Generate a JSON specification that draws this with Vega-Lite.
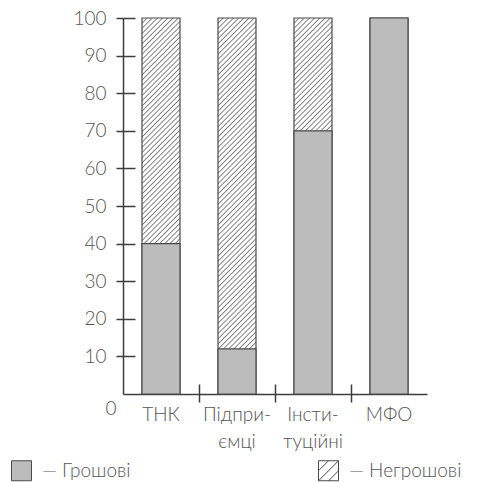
{
  "$schema": "https://vega.github.io/schema/vega-lite/v6.json",
  "autosize": "none",
  "width": 304,
  "height": 376,
  "padding": {"left": 123, "top": 18, "right": 51, "bottom": 88},
  "background": "white",
  "config": {
    "font": "Lato",
    "view": {"stroke": null},
    "axis": {
      "labelFont": "Lato",
      "labelFontSize": 19,
      "labelFontWeight": 300,
      "labelColor": "#555555",
      "domainColor": "#3c3c3c",
      "domainWidth": 1.5,
      "tickColor": "#3c3c3c",
      "tickWidth": 1.5,
      "gridColor": "#3c3c3c",
      "gridWidth": 1.5
    }
  },
  "data": {
    "values": [
      {"group": "ТНК", "kind": "Грошові", "share": 40},
      {"group": "ТНК", "kind": "Негрошові", "share": 60},
      {"group": "Підприємці", "kind": "Грошові", "share": 12},
      {"group": "Підприємці", "kind": "Негрошові", "share": 88},
      {"group": "Інституційні", "kind": "Грошові", "share": 70},
      {"group": "Інституційні", "kind": "Негрошові", "share": 30},
      {"group": "МФО", "kind": "Грошові", "share": 100},
      {"group": "МФО", "kind": "Негрошові", "share": 0}
    ]
  },
  "resolve": {"axis": {"x": "independent", "y": "independent"}},
  "layer": [
    {
      "mark": {
        "type": "bar",
        "size": 38,
        "stroke": "#4a4a4a",
        "strokeWidth": 1.2,
        "fill": {
          "gradient": "linear",
          "x1": 0, "y1": 0, "x2": 0.1102, "y2": 1.0899,
          "stops": [
            {"offset":0,"color":"#777"},{"offset":0.003,"color":"#fff"},{"offset":0.0095,"color":"#fff"},
            {"offset":0.0125,"color":"#777"},{"offset":0.0155,"color":"#fff"},{"offset":0.022,"color":"#fff"},
            {"offset":0.025,"color":"#777"},{"offset":0.028,"color":"#fff"},{"offset":0.0345,"color":"#fff"},
            {"offset":0.0375,"color":"#777"},{"offset":0.0405,"color":"#fff"},{"offset":0.047,"color":"#fff"},
            {"offset":0.05,"color":"#777"},{"offset":0.053,"color":"#fff"},{"offset":0.0595,"color":"#fff"},
            {"offset":0.0625,"color":"#777"},{"offset":0.0655,"color":"#fff"},{"offset":0.072,"color":"#fff"},
            {"offset":0.075,"color":"#777"},{"offset":0.078,"color":"#fff"},{"offset":0.0845,"color":"#fff"},
            {"offset":0.0875,"color":"#777"},{"offset":0.0905,"color":"#fff"},{"offset":0.097,"color":"#fff"},
            {"offset":0.1,"color":"#777"},{"offset":0.103,"color":"#fff"},{"offset":0.1095,"color":"#fff"},
            {"offset":0.1125,"color":"#777"},{"offset":0.1155,"color":"#fff"},{"offset":0.122,"color":"#fff"},
            {"offset":0.125,"color":"#777"},{"offset":0.128,"color":"#fff"},{"offset":0.1345,"color":"#fff"},
            {"offset":0.1375,"color":"#777"},{"offset":0.1405,"color":"#fff"},{"offset":0.147,"color":"#fff"},
            {"offset":0.15,"color":"#777"},{"offset":0.153,"color":"#fff"},{"offset":0.1595,"color":"#fff"},
            {"offset":0.1625,"color":"#777"},{"offset":0.1655,"color":"#fff"},{"offset":0.172,"color":"#fff"},
            {"offset":0.175,"color":"#777"},{"offset":0.178,"color":"#fff"},{"offset":0.1845,"color":"#fff"},
            {"offset":0.1875,"color":"#777"},{"offset":0.1905,"color":"#fff"},{"offset":0.197,"color":"#fff"},
            {"offset":0.2,"color":"#777"},{"offset":0.203,"color":"#fff"},{"offset":0.2095,"color":"#fff"},
            {"offset":0.2125,"color":"#777"},{"offset":0.2155,"color":"#fff"},{"offset":0.222,"color":"#fff"},
            {"offset":0.225,"color":"#777"},{"offset":0.228,"color":"#fff"},{"offset":0.2345,"color":"#fff"},
            {"offset":0.2375,"color":"#777"},{"offset":0.2405,"color":"#fff"},{"offset":0.247,"color":"#fff"},
            {"offset":0.25,"color":"#777"},{"offset":0.253,"color":"#fff"},{"offset":0.2595,"color":"#fff"},
            {"offset":0.2625,"color":"#777"},{"offset":0.2655,"color":"#fff"},{"offset":0.272,"color":"#fff"},
            {"offset":0.275,"color":"#777"},{"offset":0.278,"color":"#fff"},{"offset":0.2845,"color":"#fff"},
            {"offset":0.2875,"color":"#777"},{"offset":0.2905,"color":"#fff"},{"offset":0.297,"color":"#fff"},
            {"offset":0.3,"color":"#777"},{"offset":0.303,"color":"#fff"},{"offset":0.3095,"color":"#fff"},
            {"offset":0.3125,"color":"#777"},{"offset":0.3155,"color":"#fff"},{"offset":0.322,"color":"#fff"},
            {"offset":0.325,"color":"#777"},{"offset":0.328,"color":"#fff"},{"offset":0.3345,"color":"#fff"},
            {"offset":0.3375,"color":"#777"},{"offset":0.3405,"color":"#fff"},{"offset":0.347,"color":"#fff"},
            {"offset":0.35,"color":"#777"},{"offset":0.353,"color":"#fff"},{"offset":0.3595,"color":"#fff"},
            {"offset":0.3625,"color":"#777"},{"offset":0.3655,"color":"#fff"},{"offset":0.372,"color":"#fff"},
            {"offset":0.375,"color":"#777"},{"offset":0.378,"color":"#fff"},{"offset":0.3845,"color":"#fff"},
            {"offset":0.3875,"color":"#777"},{"offset":0.3905,"color":"#fff"},{"offset":0.397,"color":"#fff"},
            {"offset":0.4,"color":"#777"},{"offset":0.403,"color":"#fff"},{"offset":0.4095,"color":"#fff"},
            {"offset":0.4125,"color":"#777"},{"offset":0.4155,"color":"#fff"},{"offset":0.422,"color":"#fff"},
            {"offset":0.425,"color":"#777"},{"offset":0.428,"color":"#fff"},{"offset":0.4345,"color":"#fff"},
            {"offset":0.4375,"color":"#777"},{"offset":0.4405,"color":"#fff"},{"offset":0.447,"color":"#fff"},
            {"offset":0.45,"color":"#777"},{"offset":0.453,"color":"#fff"},{"offset":0.4595,"color":"#fff"},
            {"offset":0.4625,"color":"#777"},{"offset":0.4655,"color":"#fff"},{"offset":0.472,"color":"#fff"},
            {"offset":0.475,"color":"#777"},{"offset":0.478,"color":"#fff"},{"offset":0.4845,"color":"#fff"},
            {"offset":0.4875,"color":"#777"},{"offset":0.4905,"color":"#fff"},{"offset":0.497,"color":"#fff"},
            {"offset":0.5,"color":"#777"},{"offset":0.503,"color":"#fff"},{"offset":0.5095,"color":"#fff"},
            {"offset":0.5125,"color":"#777"},{"offset":0.5155,"color":"#fff"},{"offset":0.522,"color":"#fff"},
            {"offset":0.525,"color":"#777"},{"offset":0.528,"color":"#fff"},{"offset":0.5345,"color":"#fff"},
            {"offset":0.5375,"color":"#777"},{"offset":0.5405,"color":"#fff"},{"offset":0.547,"color":"#fff"},
            {"offset":0.55,"color":"#777"},{"offset":0.553,"color":"#fff"},{"offset":0.5595,"color":"#fff"},
            {"offset":0.5625,"color":"#777"},{"offset":0.5655,"color":"#fff"},{"offset":0.572,"color":"#fff"},
            {"offset":0.575,"color":"#777"},{"offset":0.578,"color":"#fff"},{"offset":0.5845,"color":"#fff"},
            {"offset":0.5875,"color":"#777"},{"offset":0.5905,"color":"#fff"},{"offset":0.597,"color":"#fff"},
            {"offset":0.6,"color":"#777"},{"offset":0.603,"color":"#fff"},{"offset":0.6095,"color":"#fff"},
            {"offset":0.6125,"color":"#777"},{"offset":0.6155,"color":"#fff"},{"offset":0.622,"color":"#fff"},
            {"offset":0.625,"color":"#777"},{"offset":0.628,"color":"#fff"},{"offset":0.6345,"color":"#fff"},
            {"offset":0.6375,"color":"#777"},{"offset":0.6405,"color":"#fff"},{"offset":0.647,"color":"#fff"},
            {"offset":0.65,"color":"#777"},{"offset":0.653,"color":"#fff"},{"offset":0.6595,"color":"#fff"},
            {"offset":0.6625,"color":"#777"},{"offset":0.6655,"color":"#fff"},{"offset":0.672,"color":"#fff"},
            {"offset":0.675,"color":"#777"},{"offset":0.678,"color":"#fff"},{"offset":0.6845,"color":"#fff"},
            {"offset":0.6875,"color":"#777"},{"offset":0.6905,"color":"#fff"},{"offset":0.697,"color":"#fff"},
            {"offset":0.7,"color":"#777"},{"offset":0.703,"color":"#fff"},{"offset":0.7095,"color":"#fff"},
            {"offset":0.7125,"color":"#777"},{"offset":0.7155,"color":"#fff"},{"offset":0.722,"color":"#fff"},
            {"offset":0.725,"color":"#777"},{"offset":0.728,"color":"#fff"},{"offset":0.7345,"color":"#fff"},
            {"offset":0.7375,"color":"#777"},{"offset":0.7405,"color":"#fff"},{"offset":0.747,"color":"#fff"},
            {"offset":0.75,"color":"#777"},{"offset":0.753,"color":"#fff"},{"offset":0.7595,"color":"#fff"},
            {"offset":0.7625,"color":"#777"},{"offset":0.7655,"color":"#fff"},{"offset":0.772,"color":"#fff"},
            {"offset":0.775,"color":"#777"},{"offset":0.778,"color":"#fff"},{"offset":0.7845,"color":"#fff"},
            {"offset":0.7875,"color":"#777"},{"offset":0.7905,"color":"#fff"},{"offset":0.797,"color":"#fff"},
            {"offset":0.8,"color":"#777"},{"offset":0.803,"color":"#fff"},{"offset":0.8095,"color":"#fff"},
            {"offset":0.8125,"color":"#777"},{"offset":0.8155,"color":"#fff"},{"offset":0.822,"color":"#fff"},
            {"offset":0.825,"color":"#777"},{"offset":0.828,"color":"#fff"},{"offset":0.8345,"color":"#fff"},
            {"offset":0.8375,"color":"#777"},{"offset":0.8405,"color":"#fff"},{"offset":0.847,"color":"#fff"},
            {"offset":0.85,"color":"#777"},{"offset":0.853,"color":"#fff"},{"offset":0.8595,"color":"#fff"},
            {"offset":0.8625,"color":"#777"},{"offset":0.8655,"color":"#fff"},{"offset":0.872,"color":"#fff"},
            {"offset":0.875,"color":"#777"},{"offset":0.878,"color":"#fff"},{"offset":0.8845,"color":"#fff"},
            {"offset":0.8875,"color":"#777"},{"offset":0.8905,"color":"#fff"},{"offset":0.897,"color":"#fff"},
            {"offset":0.9,"color":"#777"},{"offset":0.903,"color":"#fff"},{"offset":0.9095,"color":"#fff"},
            {"offset":0.9125,"color":"#777"},{"offset":0.9155,"color":"#fff"},{"offset":0.922,"color":"#fff"},
            {"offset":0.925,"color":"#777"},{"offset":0.928,"color":"#fff"},{"offset":0.9345,"color":"#fff"},
            {"offset":0.9375,"color":"#777"},{"offset":0.9405,"color":"#fff"},{"offset":0.947,"color":"#fff"},
            {"offset":0.95,"color":"#777"},{"offset":0.953,"color":"#fff"},{"offset":0.9595,"color":"#fff"},
            {"offset":0.9625,"color":"#777"},{"offset":0.9655,"color":"#fff"},{"offset":0.972,"color":"#fff"},
            {"offset":0.975,"color":"#777"},{"offset":0.978,"color":"#fff"},{"offset":0.9845,"color":"#fff"},
            {"offset":0.9875,"color":"#777"},{"offset":0.9905,"color":"#fff"},{"offset":0.997,"color":"#fff"},
            {"offset":1,"color":"#777"}
          ]
        }
      },
      "encoding": {
        "x": {
          "field": "group", "type": "nominal", "sort": null, "title": null,
          "scale": {"paddingInner": 0, "paddingOuter": 0},
          "axis": {
            "orient": "bottom",
            "tickSize": 8,
            "bandPosition": 0,
            "labelPadding": 3,
            "labelAngle": 0,
            "labelLineHeight": 27,
            "labelOverlap": false,
            "labelExpr": "datum.label === 'Підприємці' ? ['Підпри-', 'ємці'] : datum.label === 'Інституційні' ? ['Інсти-', 'туційні'] : datum.label",
            "tickOpacity": {"condition": {"test": "datum.value === 'ТНК'", "value": 0}, "value": 1},
            "grid": true,
            "gridDash": [10, 2000],
            "gridDashOffset": 1644,
            "gridOpacity": {"condition": {"test": "datum.value === 'ТНК'", "value": 0}, "value": 1}
          }
        },
        "y": {
          "aggregate": "sum", "field": "share", "type": "quantitative", "title": null,
          "scale": {"domain": [0, 100], "nice": false},
          "axis": {
            "orient": "left",
            "values": [0, 10, 20, 30, 40, 50, 60, 70, 80, 90, 100],
            "tickSize": 7,
            "labelPadding": {"condition": {"test": "datum.value === 0", "value": 0}, "value": 10},
            "labelOffset": {"condition": {"test": "datum.value === 0", "value": 14}, "value": 0},
            "tickOpacity": {"condition": {"test": "datum.value === 0", "value": 0}, "value": 1},
            "grid": true,
            "gridDash": [12, 2000],
            "gridOpacity": {"condition": {"test": "datum.value === 0", "value": 0}, "value": 1}
          }
        }
      }
    },
    {
      "transform": [{"filter": "datum.kind === 'Грошові'"}],
      "mark": {"type": "bar", "size": 38, "stroke": "#4a4a4a", "strokeWidth": 1.2},
      "encoding": {
        "x": {"field": "group", "type": "nominal", "sort": null, "axis": null},
        "y": {"field": "share", "type": "quantitative", "axis": null, "stack": null},
        "fill": {
          "field": "kind", "type": "nominal",
          "scale": {"domain": ["Грошові", "Негрошові"], "range": ["#bcbcbc", "#ffffff"]},
          "legend": {
            "orient": "none",
            "legendX": -112,
            "legendY": 442,
            "direction": "horizontal",
            "columns": 2,
            "columnPadding": 185,
            "padding": 0,
            "title": null,
            "symbolType": "square",
            "symbolSize": 400,
            "symbolStrokeColor": "#4a4a4a",
            "symbolStrokeWidth": 1,
            "symbolOpacity": 1,
            "labelFont": "Lato",
            "labelFontSize": 19,
            "labelFontWeight": 300,
            "labelColor": "#555555",
            "labelOffset": 10,
            "labelLimit": 300,
            "labelExpr": "'— ' + datum.label",
            "encode": {
              "symbols": {
                "update": {
                  "shape": {"signal": "datum.value === 'Негрошові' ? 'M-1,-1H1V1H-1Z M-1,0L0,-1 M-1,1L1,-1 M0,1L1,0' : 'square'"}
                }
              }
            }
          }
        }
      }
    }
  ]
}
